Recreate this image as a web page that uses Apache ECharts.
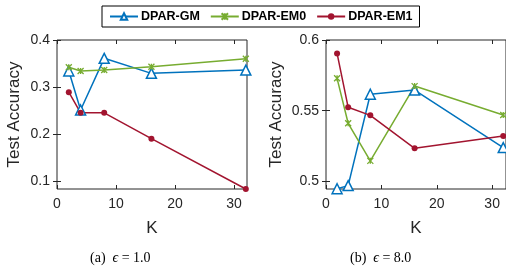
<!DOCTYPE html>
<html>
<head>
<meta charset="utf-8">
<script src="https://cdn.jsdelivr.net/npm/echarts@6/dist/echarts.min.js"></script>
<style>
  html, body { margin: 0; padding: 0; background: #fff; }
  #chart { width: 506px; height: 269px; }
</style>
</head>
<body>
<div id="chart"></div>
<script>
// K values shared by both panels
const kValues = [2, 4, 8, 16, 32];

// (a) epsilon = 1.0
const gmA  = [0.334, 0.251, 0.361, 0.329, 0.336];
const em0A = [0.342, 0.334, 0.336, 0.343, 0.360];
const em1A = [0.289, 0.245, 0.245, 0.190, 0.083];

// (b) epsilon = 8.0
const gmB  = [0.4948, 0.4970, 0.5616, 0.5646, 0.5239];
const em0B = [0.5729, 0.5411, 0.5145, 0.5674, 0.5470];
const em1B = [0.5905, 0.5524, 0.5467, 0.5234, 0.5321];

const xTicks = [0, 10, 20, 30];
const yTicksA = [0.1, 0.2, 0.3, 0.4];
const yTicksB = [0.5, 0.55, 0.6];

const names = ['DPAR-GM', 'DPAR-EM0', 'DPAR-EM1'];
const colors = ['#0072BD', '#77AC30', '#A2142F'];
const axisColor = '#262626';
const font = 'Liberation Sans, Arial, sans-serif';

function pairs(ys) {
  return kValues.map((k, i) => [k, ys[i]]);
}

function xAxes(gridIndex, max) {
  const base = {
    gridIndex: gridIndex, type: 'value', min: 0, max: max,
    axisLine: { show: false },
    splitLine: { show: false },
    axisTick: { inside: true, length: 4, customValues: xTicks, lineStyle: { color: axisColor } }
  };
  return [
    Object.assign({}, base, {
      position: 'bottom',
      name: 'K', nameLocation: 'middle', nameGap: 31,
      nameTextStyle: { fontFamily: font, fontSize: 17, color: axisColor },
      axisLabel: { customValues: xTicks, margin: 8, fontFamily: font, fontSize: 14, color: axisColor }
    }),
    Object.assign({}, base, { position: 'top', axisLabel: { show: false } })
  ];
}

function yAxes(gridIndex, min, max, ticks, gap) {
  const base = {
    gridIndex: gridIndex, type: 'value', min: min, max: max,
    axisLine: { show: false },
    splitLine: { show: false },
    axisTick: { inside: true, length: 4, customValues: ticks, lineStyle: { color: axisColor } }
  };
  return [
    Object.assign({}, base, {
      position: 'left',
      name: 'Test Accuracy', nameLocation: 'middle', nameGap: gap,
      nameTextStyle: { fontFamily: font, fontSize: 17, color: axisColor },
      axisLabel: { customValues: ticks, margin: 7, fontFamily: font, fontSize: 14, color: axisColor }
    }),
    Object.assign({}, base, { position: 'right', axisLabel: { show: false } })
  ];
}

const crossPath = 'path://M0,0L10,10M10,0L0,10M5,0L5,10';

function seriesFor(idx, data) {
  const styles = [
    { symbol: 'triangle', symbolSize: 10, itemStyle: { color: '#fff', borderColor: colors[0], borderWidth: 1.5 } },
    { symbol: crossPath, symbolSize: 6, itemStyle: { color: colors[1], borderColor: colors[1], borderWidth: 1.3 } },
    { symbol: 'circle', symbolSize: 6, itemStyle: { color: colors[2], borderColor: colors[2], borderWidth: 0 } }
  ];
  const out = [];
  data.forEach((panel, p) => {
    out.push(Object.assign({
      name: names[idx], type: 'line',
      xAxisIndex: p * 2, yAxisIndex: p * 2,
      data: pairs(panel),
      lineStyle: { color: colors[idx], width: 1.5 },
      showAllSymbol: true,
      animation: false,
      clip: false
    }, styles[idx]));
  });
  return out;
}

const chart = echarts.init(document.getElementById('chart'), null, { renderer: 'canvas' });

const captionFont = 'Liberation Serif, Times New Roman, serif';

const option = {
  animation: false,
  backgroundColor: '#fff',
  grid: [
    { left: 57, top: 40, width: 190, height: 149, show: true, borderColor: axisColor, borderWidth: 1, backgroundColor: 'transparent' },
    { left: 326, top: 40, width: 184, height: 149, show: true, borderColor: axisColor, borderWidth: 1, backgroundColor: 'transparent' }
  ],
  legend: {
    data: names,
    left: 102, top: 6,
    orient: 'horizontal',
    itemWidth: 28, itemHeight: 8, itemGap: 10,
    padding: [4, 7],
    borderColor: '#000', borderWidth: 1,
    backgroundColor: '#fff',
    textStyle: { fontFamily: font, fontSize: 12.5, fontWeight: 'bold', color: '#000', padding: [0, 0, 0, -2] }
  },
  xAxis: xAxes(0, 32.2).concat(xAxes(1, 32.5)),
  yAxis: yAxes(0, 0.083, 0.4, yTicksA, 34).concat(yAxes(1, 0.4946, 0.6, yTicksB, 41)),
  series: seriesFor(0, [gmA, gmB]).concat(seriesFor(1, [em0A, em0B])).concat(seriesFor(2, [em1A, em1B])),
  graphic: [
    {
      type: 'text', left: 90, top: 251,
      style: {
        text: '(a)  {i|ϵ} = 1.0',
        fontFamily: captionFont, fontSize: 14, fill: '#000',
        rich: { i: { fontFamily: captionFont, fontStyle: 'italic', fontSize: 14 } }
      }
    },
    {
      type: 'text', left: 350, top: 251,
      style: {
        text: '(b)  {i|ϵ} = 8.0',
        fontFamily: captionFont, fontSize: 14, fill: '#000',
        rich: { i: { fontFamily: captionFont, fontStyle: 'italic', fontSize: 14 } }
      }
    }
  ]
};

chart.setOption(option);
</script>
</body>
</html>
